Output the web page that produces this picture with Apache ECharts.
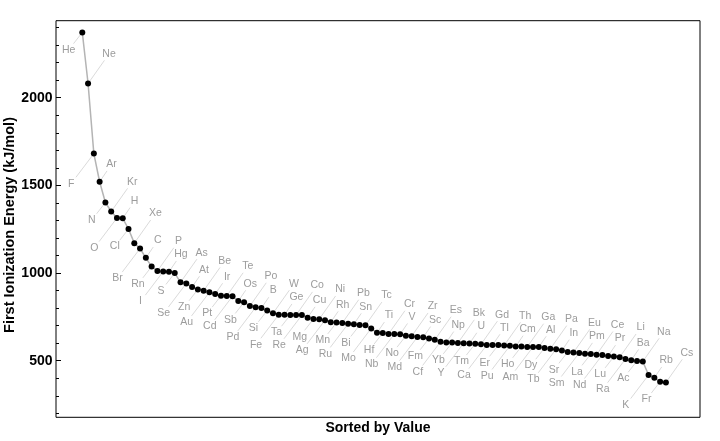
<!DOCTYPE html>
<html>
<head>
<meta charset="utf-8">
<script src="https://cdn.jsdelivr.net/npm/echarts@6/dist/echarts.min.js"></script>
<style>
html,body{margin:0;padding:0;background:#fff;}
#chart{width:720px;height:441px;}
</style>
</head>
<body>
<div id="chart"></div>
<script>
// Elements sorted by first ionization energy (descending)
const elements = ["He","Ne","F","Ar","N","Kr","O","H","Cl","Xe",
  "Br","C","Rn","P","I","Hg","S","As","Se","At",
  "Zn","Be","Au","Ir","Pt","Te","Cd","Os","Sb","Po",
  "Pd","B","Si","W","Fe","Ge","Ta","Co","Re","Cu",
  "Mg","Ni","Ag","Rh","Mn","Pb","Ru","Sn","Bi","Tc",
  "Mo","Ti","Hf","Cr","Nb","V","No","Zr","Md","Sc",
  "Fm","Es","Cf","Np","Yb","Bk","Y","U","Tm","Gd",
  "Ca","Tl","Er","Th","Pu","Cm","Ho","Ga","Am","Al",
  "Dy","Pa","Tb","In","Sr","Eu","Sm","Pm","La","Ce",
  "Nd","Pr","Lu","Li","Ra","Ba","Ac","Na","K","Rb",
  "Fr","Cs"];
const ionizationEnergy = [2372.3,2080.7,1681.0,1520.6,1402.3,1350.8,1313.9,1312.0,1251.2,1170.4,
  1139.9,1086.5,1037.0,1011.8,1008.4,1007.1,999.6,947.0,941.0,920.0,
  906.4,899.5,890.1,880.0,870.0,869.3,867.8,840.0,834.0,812.1,
  804.4,800.6,786.5,770.0,762.5,762.0,761.0,760.4,760.0,745.5,
  737.7,737.1,731.0,719.7,717.3,715.6,710.2,708.6,703.0,702.0,
  684.3,658.8,658.5,652.9,652.1,650.9,642.0,640.1,635.0,633.1,
  627.0,619.0,608.0,604.5,603.4,601.0,600.0,597.6,596.7,593.4,
  589.8,589.4,589.3,587.0,584.7,581.0,581.0,578.8,578.0,577.5,
  573.0,568.0,565.8,558.3,549.5,547.1,544.5,540.0,538.1,534.4,
  533.1,527.0,523.5,520.2,509.3,502.9,499.0,495.8,418.8,403.0,
  380.0,375.7];
const yMajorTicks = [500, 1000, 1500, 2000];
const yMinorTicks = [200,300,400,500,600,700,800,900,1000,1100,1200,1300,1400,1500,1600,1700,1800,1900,2000,2100,2200,2300,2400];

// callout layout: repeating 4-step pattern (label centre offset in px)
const calloutPattern = [[-13.7, 17.6], [21.0, -29.7], [-22.7, 30.0], [11.9, -17.4]];

const seriesData = ionizationEnergy.map((v, i) => [i, v]);

const chart = echarts.init(document.getElementById('chart'), null, {renderer: 'canvas'});
const FONT = "'Liberation Sans', Arial, Helvetica, sans-serif";

const yBase = {
  type: 'value', min: 177.3, max: 2439,
  position: 'left', offset: 0,
  axisLine: {show: false, onZero: false},
  splitLine: {show: false}
};

chart.setOption({
  animation: false,
  backgroundColor: '#fff',
  grid: {left: 56, right: 20, top: 20.7, bottom: 23.7, containLabel: false, outerBoundsMode: 'none',
         show: true, borderColor: '#000', borderWidth: 1, backgroundColor: 'transparent'},
  xAxis: {
    type: 'value', min: -4.55, max: 106.9,
    axisLine: {show: false, onZero: false}, axisTick: {show: false}, axisLabel: {show: false}, splitLine: {show: false},
    name: 'Sorted by Value', nameLocation: 'middle', nameGap: 3.5, nameMoveOverlap: false,
    nameTextStyle: {fontFamily: FONT, fontWeight: 'bold', fontSize: 14, color: '#000', verticalAlign: 'top'}
  },
  yAxis: [
    Object.assign({}, yBase, {
      axisTick: {show: true, inside: true, length: 5, lineStyle: {color: '#000', width: 1}, customValues: yMajorTicks},
      axisLabel: {show: true, customValues: yMajorTicks, margin: 3.5, fontFamily: FONT, fontWeight: 'bold', fontSize: 14, color: '#000',
                  formatter: v => String(v)},
      name: 'First Ionization Energy (kJ/mol)', nameLocation: 'middle', nameGap: 39, nameRotate: 90, nameMoveOverlap: false,
      nameTextStyle: {fontFamily: FONT, fontWeight: 'bold', fontSize: 14.5, color: '#000', padding: [0, 12, 0, 0]}
    }),
    Object.assign({}, yBase, {
      axisTick: {show: true, inside: true, length: 3, lineStyle: {color: '#000', width: 1}, customValues: yMinorTicks},
      axisLabel: {show: true, customValues: yMinorTicks, formatter: () => ''}
    })
  ],
  series: [
    {
      type: 'custom',
      coordinateSystem: 'cartesian2d',
      z: 1,
      silent: true,
      data: seriesData,
      renderItem: function (params, api) {
        const i = api.value(0);
        const p = api.coord([i, api.value(1)]);
        const off = calloutPattern[i % 4];
        const cx = p[0] + off[0], cy = p[1] + off[1];
        const len = Math.sqrt(off[0] * off[0] + off[1] * off[1]);
        const ux = off[0] / len, uy = off[1] / len;
        const startGap = 2.5, endGap = 8;
        return {
          type: 'group',
          children: [
            {type: 'line', shape: {x1: p[0] + ux * startGap, y1: p[1] + uy * startGap,
                                   x2: cx - ux * endGap, y2: cy - uy * endGap},
             style: {stroke: '#d0d0d0', lineWidth: 0.8}},
            {type: 'text', x: cx, y: cy,
             style: {text: elements[i], fill: '#9c9c9c', fontSize: 10.5, fontFamily: FONT,
                     align: 'center', verticalAlign: 'middle'}}
          ]
        };
      }
    },
    {
      type: 'line',
      z: 3,
      data: seriesData,
      symbol: 'circle',
      symbolSize: 6,
      showSymbol: true,
      lineStyle: {color: '#b4b4b4', width: 1.5},
      itemStyle: {color: '#000'},
      emphasis: {disabled: true}
    }
  ]
});
</script>
</body>
</html>
